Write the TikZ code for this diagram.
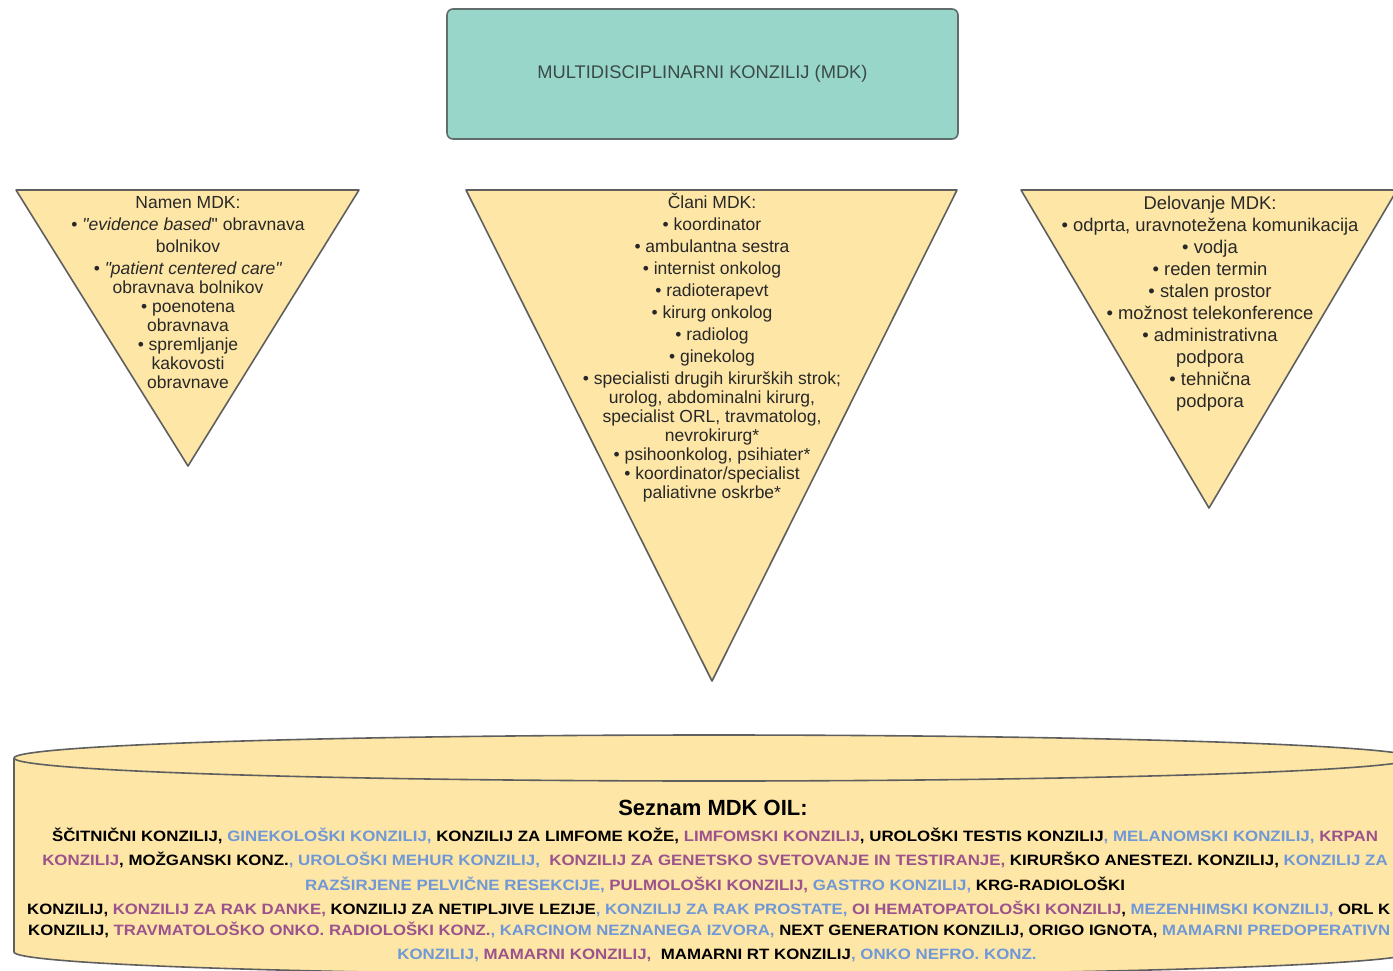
\documentclass[tikz,border=0pt]{standalone}
\usepackage{fontspec}
\setmainfont{Liberation Sans}
\usepackage{graphicx}
\definecolor{fillY}{RGB}{253,230,166}
\definecolor{edgeG}{RGB}{95,95,95}
\definecolor{tealF}{RGB}{153,214,202}
\definecolor{tealE}{RGB}{95,110,108}
\definecolor{tealT}{RGB}{58,74,72}
\definecolor{txt}{RGB}{40,40,40}
\definecolor{lblue}{RGB}{112,152,214}
\definecolor{mauve}{RGB}{156,82,140}
\newcommand\Bk[1]{\textcolor{black}{#1}}
\newcommand\Bl[1]{\textcolor{lblue}{#1}}
\newcommand\Pu[1]{\textcolor{mauve}{#1}}
\newcommand\botfont{\fontsize{15}{18}\selectfont\bfseries}
\newsavebox\reflinebox
\newlength\reflinewd
\begin{document}
\sbox\reflinebox{\botfont ŠČITNIČNI KONZILIJ, GINEKOLOŠKI KONZILIJ, KONZILIJ ZA LIMFOME KOŽE, LIMFOMSKI KONZILIJ, UROLOŠKI TESTIS KONZILIJ, MELANOMSKI KONZILIJ, KRPAN}%
\setlength\reflinewd{\wd\reflinebox}%
\pgfmathsetmacro\xf{1326/\reflinewd}%
\begin{tikzpicture}[x=1pt,y=-1pt,
  shapeY/.style={fill=fillY,draw=edgeG,line width=1.6pt,line join=round},
  tritext/.style={align=center,text=txt,inner sep=0pt,anchor=north,font=\fontsize{17.5}{22}\selectfont},
  botline/.style={inner sep=0pt,anchor=base}]
\useasboundingbox (0,0) rectangle (1393,970);
\clip (0,0) rectangle (1393,970);
% top box
\node[draw=tealE,fill=tealF,line width=1.6pt,rounded corners=6pt,minimum width=511pt,minimum height=130pt,
  text=tealT,font=\fontsize{18.3}{21}\selectfont] (mdk) at (702.5,74) {MULTIDISCIPLINARNI KONZILIJ (MDK)};
% triangles
\coordinate (l1) at (16,190); \coordinate (l2) at (359,190); \coordinate (l3) at (188,466);
\coordinate (m1) at (466,190); \coordinate (m2) at (957,190); \coordinate (m3) at (712,681);
\coordinate (r1) at (1021,190); \coordinate (r2) at (1397,190); \coordinate (r3) at (1209,508);
\draw[shapeY] (l1) -- (l2) -- (l3) -- cycle;
\draw[shapeY] (m1) -- (m2) -- (m3) -- cycle;
\draw[shapeY] (r1) -- (r2) -- (r3) -- cycle;
\node[tritext] (namen) at (188,196) {Namen MDK:\\
• \textit{\textquotedbl evidence based}\textquotedbl{} obravnava\\
bolnikov\\
• \textit{\textquotedbl patient centered care\textquotedbl}\\[-3pt]
obravnava bolnikov\\[-3pt]
• poenotena\\[-3pt]
obravnava\\[-3pt]
• spremljanje\\[-3pt]
kakovosti\\[-3pt]
obravnave};
\node[tritext] (clani) at (712,193) {Člani MDK:\\
• koordinator\\
• ambulantna sestra\\
• internist onkolog\\
• radioterapevt\\
• kirurg onkolog\\
• radiolog\\
• ginekolog\\
• specialisti drugih kirurških strok;\\[-3pt]
urolog, abdominalni kirurg,\\[-3pt]
specialist ORL, travmatolog,\\[-3pt]
nevrokirurg*\\[-3pt]
• psihoonkolog, psihiater*\\[-3pt]
• koordinator/specialist\\[-3pt]
paliativne oskrbe*};
\node[tritext,font=\fontsize{18.4}{22}\selectfont] (delo) at (1210,195.5) {Delovanje MDK:\\
• odprta, uravnotežena komunikacija\\
• vodja\\
• reden termin\\
• stalen prostor\\
• možnost telekonference\\
• administrativna\\
podpora\\
• tehnična\\
podpora};
% cylinder
\fill[fillY] (14,758) -- (14,952) arc[start angle=180,end angle=0,x radius=700,y radius=23] -- (1414,758) -- cycle;
\draw[edgeG,line width=1.6pt] (14,758) -- (14,952) arc[start angle=180,end angle=0,x radius=700,y radius=23] -- (1414,758);
\draw[shapeY] (714,758) ellipse[x radius=700,y radius=23];
% list text
\node[botline,font=\fontsize{22}{24}\selectfont\bfseries] (sez) at (713,815) {Seznam MDK OIL:};
\node[botline] (b1) at (715,841) {\scalebox{\xf}[1]{\botfont\Bk{ŠČITNIČNI KONZILIJ,} \Bl{GINEKOLOŠKI KONZILIJ,} \Bk{KONZILIJ ZA LIMFOME KOŽE,} \Pu{LIMFOMSKI KONZILIJ}\Bk{, UROLOŠKI TESTIS KONZILIJ}\Bl{, MELANOMSKI KONZILIJ,} \Pu{KRPAN}}};
\node[botline] (b2) at (715,865) {\scalebox{\xf}[1]{\botfont\Pu{KONZILIJ}\Bk{, MOŽGANSKI KONZ.}\Bl{, UROLOŠKI MEHUR KONZILIJ,}\ \ \Pu{KONZILIJ ZA GENETSKO SVETOVANJE IN TESTIRANJE,} \Bk{KIRURŠKO ANESTEZI. KONZILIJ,} \Bl{KONZILIJ ZA}}};
\node[botline] (b3) at (715,890) {\scalebox{\xf}[1]{\botfont\Bl{RAZŠIRJENE PELVIČNE RESEKCIJE,} \Pu{PULMOLOŠKI KONZILIJ,} \Bl{GASTRO KONZILIJ,} \Bk{KRG-RADIOLOŠKI}}};
\node[botline,anchor=base west] (b4) at (27,914) {\resizebox{1363pt}{\height}{\botfont\Bk{KONZILIJ,} \Pu{KONZILIJ ZA RAK DANKE,} \Bk{KONZILIJ ZA NETIPLJIVE LEZIJE}\Bl{, KONZILIJ ZA RAK PROSTATE,} \Pu{OI HEMATOPATOLOŠKI KONZILIJ}\Bk{,} \Bl{MEZENHIMSKI KONZILIJ,} \Bk{ORL K}}};
\node[botline,anchor=base west] (b5) at (28,935) {\resizebox{1362pt}{\height}{\botfont\Bk{KONZILIJ,} \Pu{TRAVMATOLOŠKO ONKO. RADIOLOŠKI KONZ.}\Bl{, KARCINOM NEZNANEGA IZVORA,} \Bk{NEXT GENERATION KONZILIJ, ORIGO IGNOTA,} \Bl{MAMARNI PREDOPERATIVN}}};
\node[botline] (b6) at (717,959) {\scalebox{\xf}[1]{\botfont\Bl{KONZILIJ,} \Pu{MAMARNI KONZILIJ,}\ \ \Bk{MAMARNI RT KONZILIJ}\Bl{, ONKO NEFRO. KONZ.}}};
\end{tikzpicture}
\end{document}
